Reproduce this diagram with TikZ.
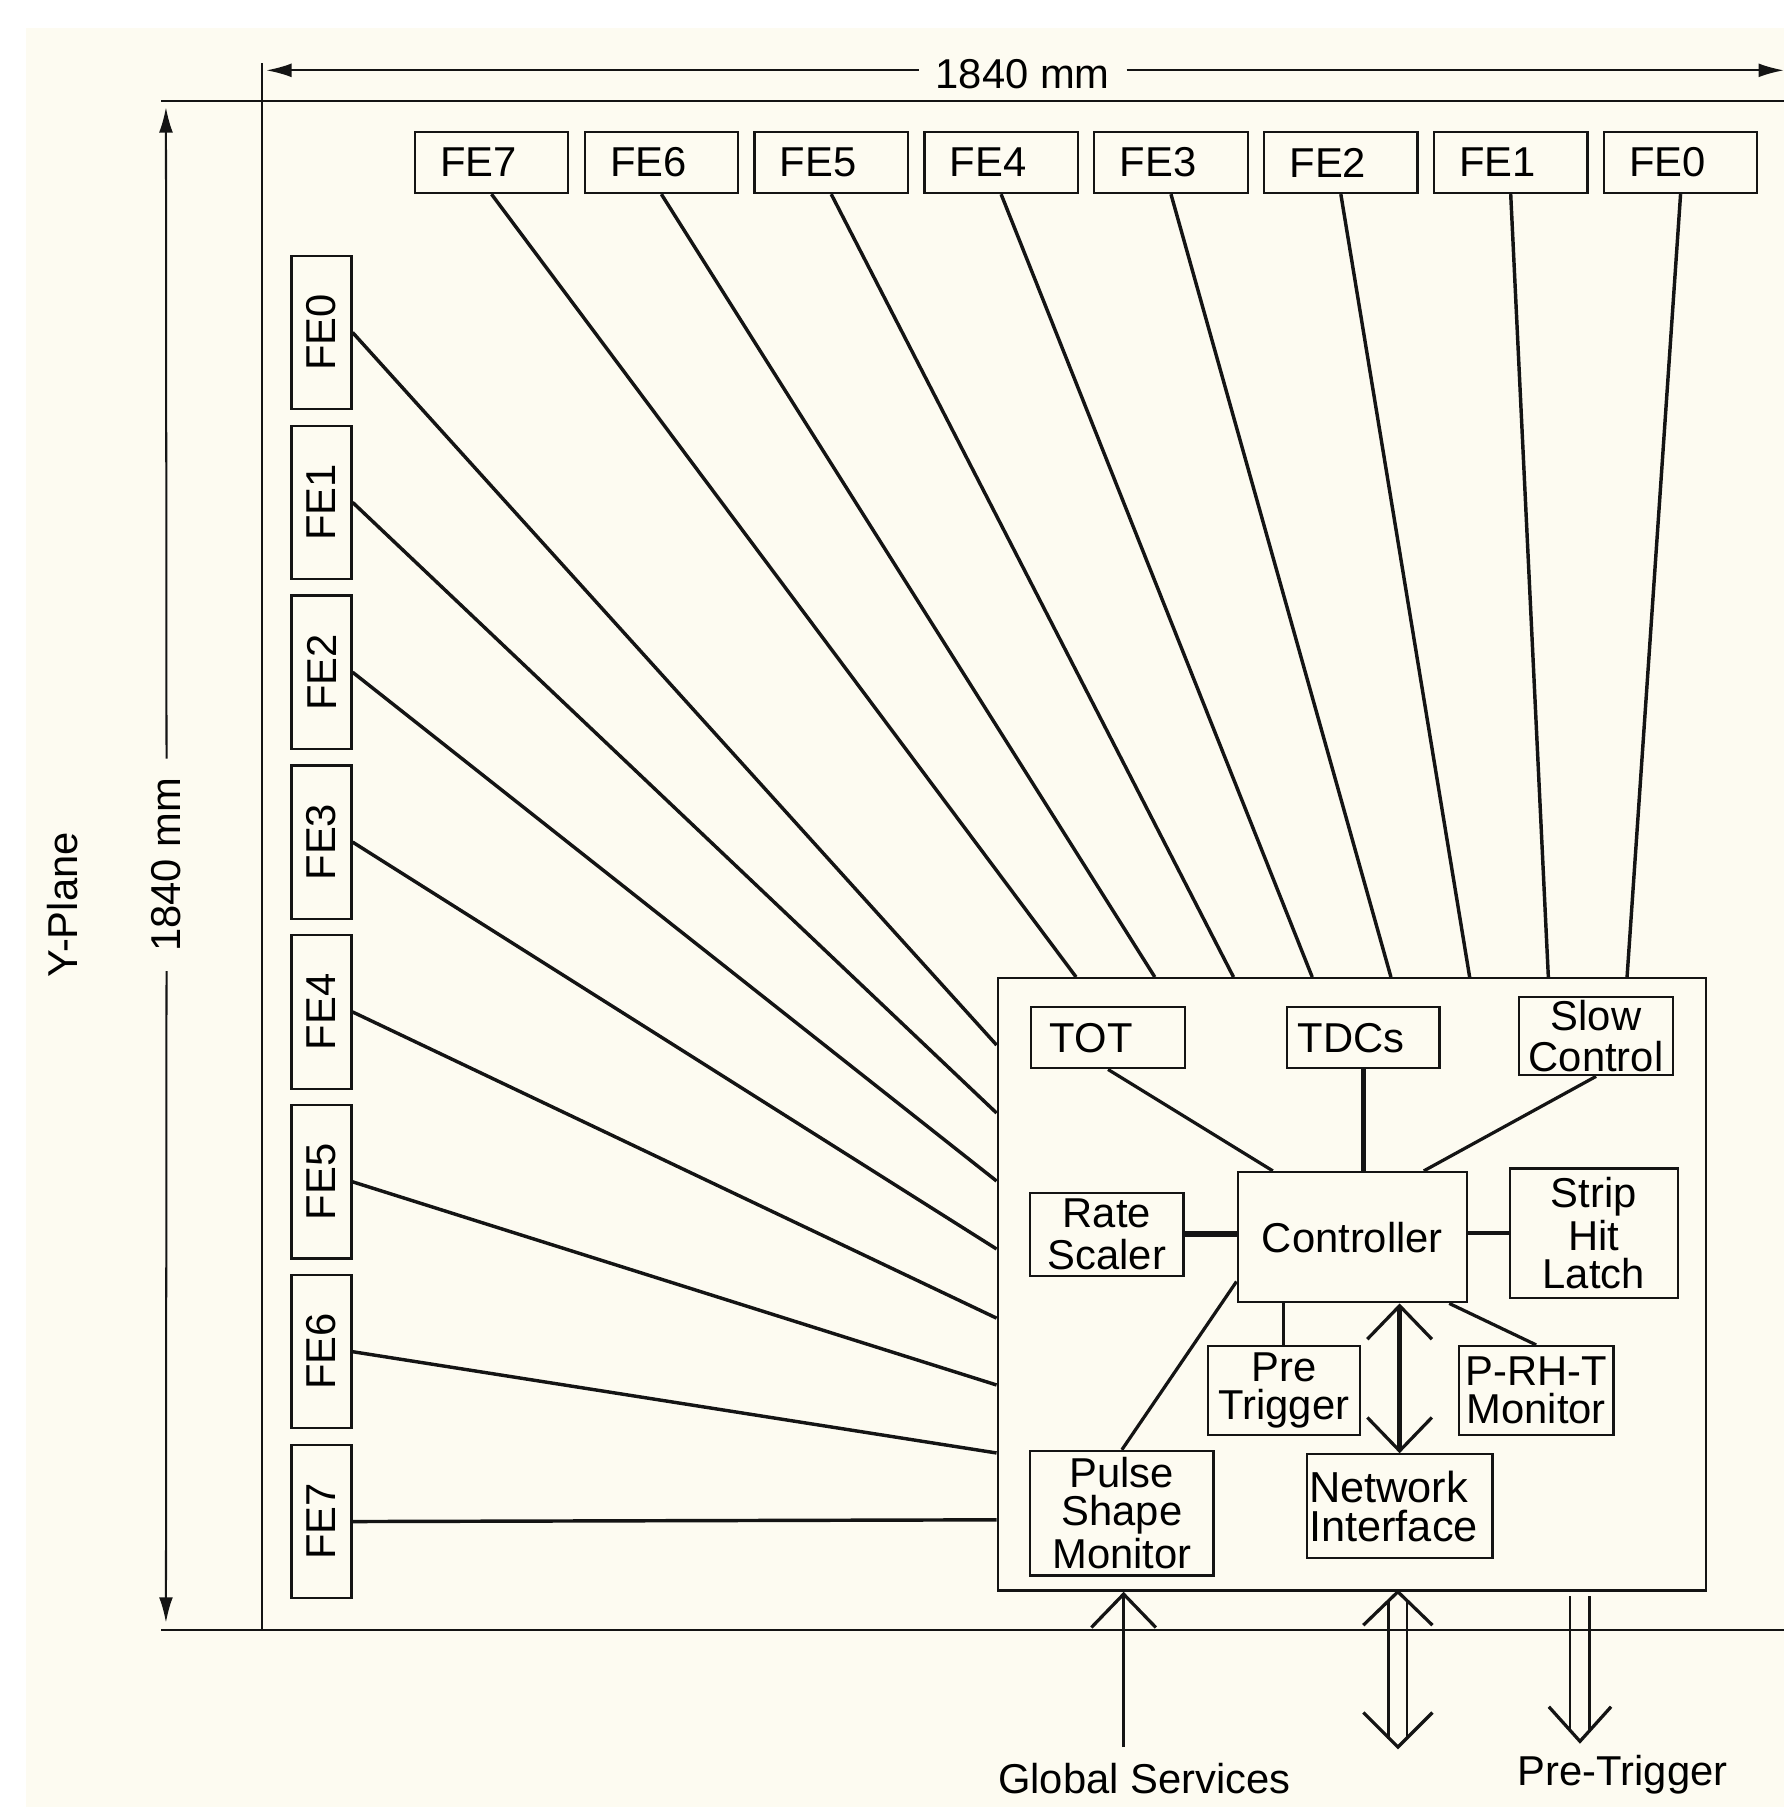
\documentclass[tikz,border=0pt]{standalone}
\usepackage{fontspec}
\setmainfont{Liberation Sans}
\usetikzlibrary{arrows.meta,calc}
\definecolor{cream}{RGB}{253,251,241}
\definecolor{ink}{RGB}{20,20,20}
\newcommand\dfont{\fontsize{10.3}{9.3}\selectfont}
\newcommand\wfont{\fontsize{10.3}{10.2}\selectfont}
\newcommand\nfont{\fontsize{10.7}{9.7}\selectfont}
\begin{document}
\begin{tikzpicture}[x=0.01cm,y=-0.01cm,
  every node/.style={text=black, font=\dfont},
  frame/.style={draw=ink, line width=0.5pt},
  febox/.style={draw=ink, line width=0.55pt, inner ysep=0pt},
  topfe/.style={febox, minimum height=0.53cm, text width=0.89cm, inner xsep=0.22cm, align=left},
  leftfe/.style={febox, minimum width=0.52cm, minimum height=1.33cm, inner sep=0pt},
  blk/.style={draw=ink, line width=0.55pt, inner sep=0pt, align=center},
  fan/.style={draw=ink, line width=0.85pt},
  link/.style={draw=ink, line width=0.8pt},
  ln/.style={draw=ink, line width=0.65pt},
  vln/.style={draw=ink, line width=0.8pt},
  Vh/.tip={Straight Barb[length=2.9mm,width=5.6mm,line width=0.8pt]},
  Dt/.tip={Latex[length=2.2mm,width=1.2mm]}
]
\useasboundingbox (0,0) rectangle (1548,1568);
\fill[white] (0,0) rectangle (1548,1568);
\fill[cream] (22.6,24.6) rectangle (1548,1568);

% frame and dimensions
\draw[frame] (140,88) -- (1548,88);
\draw[frame] (140,1414) -- (1548,1414);
\draw[frame] (227,55) -- (227,1414);

\node[inner xsep=0.14cm, inner ysep=0pt] (dtop) at (887.5,64) {1840 mm};
\draw[frame, Dt-] (231,61) -- ($(dtop.west)+(0,-3)$);
\draw[frame, -Dt] ($(dtop.east)+(0,-3)$) -- (1548,61);

\node[inner xsep=0pt, inner ysep=0.16cm] (dleft) at (144.5,750.5) {\rotatebox{90}{1840 mm}};
\draw[frame, Dt-] (144,93) -- (dleft.north);
\draw[frame, -Dt] (dleft.south) -- (144,1408);

\node (yp) at (54,785) {\rotatebox{90}{Y-Plane}};

% top FE boxes
\node[topfe] (T7) at (426.5,141) {FE7};
\node[topfe] (T6) at (573.9,141) {FE6};
\node[topfe] (T5) at (721.3,141) {FE5};
\node[topfe] (T4) at (868.7,141) {FE4};
\node[topfe] (T3) at (1016.1,141) {FE3};
\node[topfe] (T2) at (1163.5,141) {FE2};
\node[topfe] (T1) at (1310.9,141) {FE1};
\node[topfe] (T0) at (1458.3,141) {FE0};

% left FE boxes
\node[leftfe] (L0) at (279,288.5) {\rotatebox{90}{FE0}};
\node[leftfe] (L1) at (279,435.9) {\rotatebox{90}{FE1}};
\node[leftfe] (L2) at (279,583.3) {\rotatebox{90}{FE2}};
\node[leftfe] (L3) at (279,730.7) {\rotatebox{90}{FE3}};
\node[leftfe] (L4) at (279,878.1) {\rotatebox{90}{FE4}};
\node[leftfe] (L5) at (279,1025.5) {\rotatebox{90}{FE5}};
\node[leftfe] (L6) at (279,1172.9) {\rotatebox{90}{FE6}};
\node[leftfe] (L7) at (279,1320.3) {\rotatebox{90}{FE7}};

% main box
\node[draw=ink, line width=0.6pt, minimum width=6.14cm, minimum height=5.31cm, inner sep=0pt] (main) at (1173,1114.5) {};

\foreach \i/\o in {7/69,6/137.3,5/205.6,4/273.9,3/342.2,2/410.5,1/478.8,0/547.1}
  \draw[fan] (T\i.south) -- ($(main.north west)+(\o,0)$);
\foreach \i/\o in {0/59,1/118,2/177,3/236,4/296,5/354,6/413,7/471}
  \draw[fan] (L\i.east) -- ($(main.north west)+(0,\o)$);

% inner blocks
\node[blk, minimum width=1.33cm, minimum height=0.53cm, text width=1.01cm, inner xsep=0.16cm, align=left] (tot) at (961.5,900.5) {TOT};
\node[blk, minimum width=1.32cm, minimum height=0.53cm, text width=1.14cm, inner xsep=0.09cm, align=left] (tdc) at (1183,900.5) {TDCs};
\node[blk, font=\wfont, minimum width=1.34cm, minimum height=0.68cm] (slow) at (1385,899) {Slow\\Control};
\node[blk, font=\wfont, minimum width=1.33cm, minimum height=0.72cm] (rate) at (960.5,1071) {Rate\\Scaler};
\node[blk, minimum width=1.99cm, minimum height=1.13cm] (ctrl) at (1173.5,1073.5) {Controller};
\node[blk, minimum width=1.46cm, minimum height=1.12cm] (strip) at (1383,1070) {Strip\\Hit\\Latch};
\node[blk, minimum width=1.32cm, minimum height=0.77cm] (pre) at (1114,1206.5) {Pre\\Trigger};
\node[blk, minimum width=1.34cm, minimum height=0.77cm] (prht) at (1333,1206.5) {P-RH-T\\Monitor};
\node[blk, minimum width=1.59cm, minimum height=1.08cm] (pulse) at (973.5,1313) {Pulse\\Shape\\Monitor};
\node[blk, minimum width=1.61cm, minimum height=0.90cm, text width=1.57cm, inner xsep=0.02cm, align=left, font=\nfont] (ni) at (1214.5,1307) {Network\\Interface};

% inner connectors
\draw[link] (tot.south) -- ($(ctrl.north west)+(31.5,0)$);
\draw[link, line width=1.2pt] (tdc.south) -- (tdc.south |- ctrl.north);
\draw[link] (slow.south) -- ($(ctrl.north west)+(162.5,0)$);
\draw[link, line width=1.4pt] (rate.east) -- (rate.east -| ctrl.west);
\draw[link] (ctrl.east |- strip.west) -- (strip.west);
\draw[link] (pre.north |- ctrl.south) -- (pre.north);
\draw[link] ($(ctrl.south east)+(-16.5,0)$) -- (prht.north);
\draw[link] ($(ctrl.south west)+(0,-19)$) -- (pulse.north);
\draw[draw=ink, line width=1.3pt, Vh-Vh] (ni.north |- ctrl.south) -- (ni.north);

% external arrows
\node (gs) at (993,1543) {Global Services};
\node (ptl) at (1408,1540) {Pre-Trigger};

\coordinate (gsEnd) at (975,1516);
\draw[ln, -Vh] (gsEnd) -- (gsEnd |- main.south);

\coordinate (netEnd) at (1213,1516);
\path (netEnd |- main.south) coordinate (netTop);
\draw[ln] ($(netTop)+(-8,7)$) -- ($(netEnd)+(-8,-7)$);
\draw[ln] ($(netTop)+(8,7)$) -- ($(netEnd)+(8,-7)$);
\draw[vln] ($(netTop)+(-30,29)$) -- (netTop) -- ($(netTop)+(30,29)$);
\draw[vln] ($(netEnd)+(-30,-30)$) -- (netEnd) -- ($(netEnd)+(30,-30)$);

\coordinate (ptEnd) at (1371,1511);
\path (ptEnd |- main.south) coordinate (ptTop);
\draw[ln] ($(ptTop)+(-8.5,4)$) -- ($(ptEnd)+(-8.5,-10)$);
\draw[ln] ($(ptTop)+(8.5,4)$) -- ($(ptEnd)+(8.5,-10)$);
\draw[vln] ($(ptEnd)+(-27,-30)$) -- (ptEnd) -- ($(ptEnd)+(27,-30)$);
\end{tikzpicture}
\end{document}
